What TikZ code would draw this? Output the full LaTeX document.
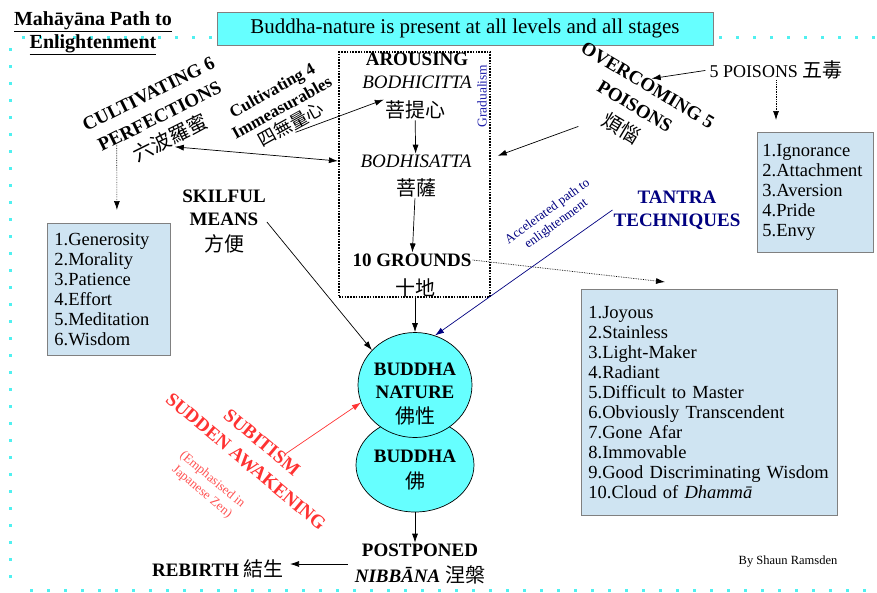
\documentclass[tikz,border=0pt]{standalone}
\usepackage{fontspec}
\setmainfont{Liberation Serif}
\newfontfamily\cjk{Noto Sans CJK TC}
\usepackage{xcolor}
\usetikzlibrary{shapes.geometric, arrows.meta, calc, positioning}

\definecolor{aqua}{RGB}{102,255,255}
\definecolor{listblue}{RGB}{207,228,242}
\definecolor{tantrablue}{RGB}{0,0,128}
\definecolor{gradblue}{RGB}{30,30,170}
\definecolor{zenred}{RGB}{255,51,51}
\definecolor{dotcyan}{RGB}{80,240,240}

\begin{document}
\begin{tikzpicture}[
    x=1pt, y=-1pt,
    >={Latex[length=9pt,width=6pt]},
    link/.style={->, line width=0.7pt},
    dotlink/.style={->, line width=0.7pt, densely dotted},
    caps/.style={font=\fontsize{19}{23}\selectfont\bfseries, align=center, inner sep=1pt},
    tilted/.style={caps, font=\fontsize{19}{25}\selectfont\bfseries},
    han/.style={font=\cjk\fontsize{20}{24}\selectfont, inner sep=1pt},
    listbox/.style={draw=gray, line width=0.8pt, fill=listblue, align=left, anchor=north west, inner xsep=7pt, inner ysep=0pt, font=\fontsize{18.5}{20}\selectfont},
    bubble/.style={ellipse, draw, fill=aqua, line width=0.7pt, inner sep=0pt},
    gradbox/.style={draw, line width=2.2pt, dash pattern=on 1.6pt off 1.2pt, inner sep=0pt},
    border/.style={dotcyan, line width=3pt, dash pattern=on 3pt off 14pt}
]
\useasboundingbox (0,0) rectangle (877,592);

% Frame
\draw[border] (22,37) -- (877,37);
\draw[border] (10,48) -- (10,592);
\draw[border] (30,590) -- (877,590);

% Title and banner
\node[caps, font=\fontsize{20}{23}\selectfont\bfseries] (title) at (93,33) {\underline{Mahāyāna Path to}\\\underline{Enlightenment}};
\node[draw=gray, fill=aqua, minimum width=496pt, minimum height=33pt, font=\fontsize{21}{24}\selectfont] (banner) at (465,28.5) {Buddha-nature is present at all levels and all stages};

% Gradual path
\node[gradbox, minimum width=151pt, minimum height=245pt] (grad) at (414.5,174.5) {};
\node[rotate=90, text=gradblue, font=\fontsize{13.5}{15}\selectfont, inner sep=1pt] (gradualism) at (482,96) {Gradualism};
\node[caps] (arousing) at (417,71) {AROUSING\\{\mdseries\itshape BODHICITTA}};
\node[han] (bodhicitta) at (415,110) {菩提心};
\node[caps] (bodhisatta) at (416,176) {{\mdseries\itshape BODHISATTA}\\[5pt]{\cjk\mdseries\fontsize{20}{24}\selectfont 菩薩}};
\node[caps] (grounds) at (412,260) {10 GROUNDS};
\node[han] (tenbhumi) at (415,288) {十地};

\draw[link] (bodhicitta) -- (bodhisatta);
\draw[link] (bodhisatta) -- (grounds);

% Buddha nature
\node[bubble, minimum width=118pt, minimum height=94pt] (buddha) at (415,465) {};
\node[bubble, minimum width=114pt, minimum height=105pt] (bnature) at (415,385) {};
\node[caps] (naturetext) at (415,394) {BUDDHA\\NATURE\\[2pt]{\cjk\mdseries\fontsize{20}{24}\selectfont 佛性}};
\node[caps] (buddhatext) at (415,470) {BUDDHA\\[3pt]{\cjk\mdseries\fontsize{20}{24}\selectfont 佛}};
\draw[link] (tenbhumi) -- (bnature);

% Outcome
\node[caps] (postponed) at (420,564) {POSTPONED\\[3pt]{\itshape NIBBĀNA} {\cjk\mdseries\fontsize{20}{24}\selectfont 涅槃}};
\node[caps] (rebirth) at (218,569) {REBIRTH {\cjk\mdseries\fontsize{20}{24}\selectfont 結生}};
\draw[link] (buddha) -- (buddha.south |- postponed.north);
\draw[link, shorten <=6pt, shorten >=5pt] (postponed.west) -- (postponed.west -| rebirth.east);

% Perfections and immeasurables
\node[tilted, rotate=26.4] (perfect) at (160,117) {CULTIVATING 6\\PERFECTIONS\\{\cjk\mdseries\fontsize{20}{24}\selectfont 六波羅蜜}};
\node[tilted, rotate=29, font=\fontsize{17}{20}\selectfont\bfseries] (immeas) at (282,108) {Cultivating 4\\Immeasurables\\{\cjk\mdseries\fontsize{18}{22}\selectfont 四無量心}};
\node[listbox, text width=109pt, minimum height=132pt] (sixlist) at (47,223) {1.Generosity\\2.Morality\\3.Patience\\4.Effort\\5.Meditation\\6.Wisdom};
\draw[<->, line width=0.7pt] (perfect.south) -- (grad.170);
\draw[link] (immeas.south) -- (bodhicitta.north west);
\draw[dotlink] ($(perfect.south)+(-58,-2)$) -- ($(sixlist.north)+(8,-13)$);

% Skilful means
\node[caps] (skilful) at (224,222) {SKILFUL\\MEANS\\[3pt]{\cjk\mdseries\fontsize{20}{24}\selectfont 方便}};
\draw[link] (skilful.east) -- (bnature.141);

% Poisons
\node[tilted, rotate=-31] (overcoming) at (634,108) {OVERCOMING 5\\POISONS\\[2pt]{\cjk\mdseries\fontsize{20}{24}\selectfont 煩惱}};
\node[caps, font=\fontsize{18}{20}\selectfont] (poisons) at (776,70) {5 POISONS {\cjk\fontsize{20}{24}\selectfont 五毒}};
\node[listbox, inner xsep=5pt, text width=106pt, minimum height=120pt] (poisonlist) at (757,132) {1.Ignorance\\2.Attachment\\3.Aversion\\4.Pride\\5.Envy};
\draw[link, shorten >=7pt] ($(overcoming.south)+(-38,-11)$) -- (grad.12);
\draw[link, shorten <=3pt] (poisons.west) -- (overcoming.north);
\draw[dotlink, shorten >=12pt] (poisons.south) -- (poisons.south |- poisonlist.north);

% Grounds list
\node[listbox, text width=242pt, minimum height=226pt] (groundlist) at (581,289) {1.Joyous\\2.Stainless\\3.Light-Maker\\4.Radiant\\5.Difficult to Master\\6.Obviously Transcendent\\7.Gone Afar\\8.Immovable\\9.Good Discriminating Wisdom\\10.Cloud of \textit{Dhammā}};
\draw[dotlink] (grounds.east) -- ($(groundlist.north west)+(84,-7)$);

% Tantra
\node[caps, text=tantrablue] (tantra) at (677,210) {TANTRA\\TECHNIQUES};
\node[rotate=36, text=tantrablue, align=center, font=\fontsize{13}{15}\selectfont, inner sep=1pt] (accel) at (552,218) {Accelerated path to\\enlightenment};
\draw[link, tantrablue] (tantra.west) -- (bnature.68);

% Sudden awakening
\node[tilted, rotate=-40, text=zenred] (subitism) at (254,452) {SUBITISM\\SUDDEN AWAKENING};
\node[rotate=-40, text=zenred!85, align=center, font=\fontsize{13}{16}\selectfont, inner sep=1pt] (zen) at (207,486) {(Emphasised in\\Japanese Zen)};
\draw[link, zenred] ($(subitism.north)+(19,17)$) -- (bnature.198);

\node[font=\fontsize{12.5}{14}\selectfont] (byline) at (788,562) {By Shaun Ramsden};

\end{tikzpicture}
\end{document}
